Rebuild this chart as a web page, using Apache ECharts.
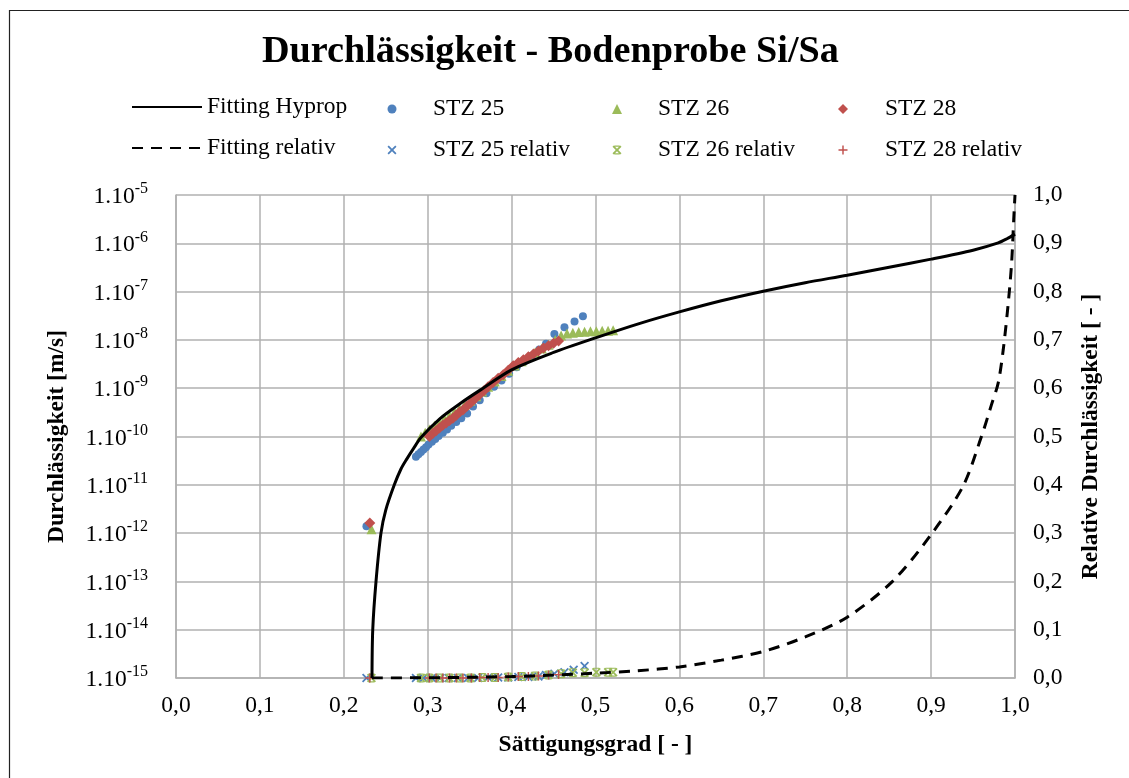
<!DOCTYPE html>
<html>
<head>
<meta charset="utf-8">
<script src="https://cdn.jsdelivr.net/npm/echarts@6/dist/echarts.min.js"></script>
<style>
  html, body { margin: 0; padding: 0; background: #fff; }
  #chart { width: 1129px; height: 778px; }
</style>
</head>
<body>
<div id="chart"></div>
<script>
// Saturation degree [-] vs. hydraulic conductivity [m/s] (log) and relative conductivity [-]

// Fitted conductivity curve (Hyprop)
const fitS = [0.2336, 0.2345, 0.2384, 0.2443, 0.250, 0.2602, 0.268, 0.275, 0.283, 0.292, 0.314, 0.340, 0.366, 0.400, 0.450, 0.500, 0.553, 0.600, 0.650, 0.700, 0.750, 0.800, 0.850, 0.900, 0.950, 0.980, 0.990, 1.000];
const fitK = [1e-15, 1e-14, 1e-13, 1e-12, 3.0e-12, 1e-11, 2.1e-11, 3.4e-11, 5.6e-11, 9.5e-11, 2.3e-10, 5.0e-10, 1.0e-9, 2.4e-9, 5.5e-9, 1.1e-8, 2.2e-8, 3.8e-8, 6.46e-8, 1.02e-7, 1.53e-7, 2.19e-7, 3.2e-7, 4.7e-7, 7.2e-7, 1.02e-6, 1.23e-6, 1.55e-6];

// Fitted relative conductivity curve
const relFitS = [0.2336, 0.30, 0.35, 0.40, 0.45, 0.50, 0.55, 0.60, 0.65, 0.70, 0.75, 0.80, 0.854, 0.90, 0.938, 0.960, 0.972, 0.980, 0.986, 0.992, 0.996, 0.9985, 1.000];
const relFitK = [0, 0.0005, 0.0015, 0.003, 0.006, 0.010, 0.015, 0.023, 0.037, 0.055, 0.085, 0.126, 0.200, 0.297, 0.397, 0.500, 0.566, 0.611, 0.680, 0.777, 0.860, 0.950, 1.000];

// Measured conductivity, sample STZ 25
const s25 = [0.227, 0.286, 0.289, 0.292, 0.295, 0.298, 0.301, 0.305, 0.309, 0.313, 0.318, 0.323, 0.328, 0.334, 0.340, 0.347, 0.354, 0.362, 0.370, 0.379, 0.388, 0.397, 0.406, 0.415, 0.424, 0.433, 0.441, 0.451, 0.463, 0.475, 0.485];
const k25 = [1.38e-12, 3.8e-11, 4.3e-11, 4.8e-11, 5.4e-11, 6.0e-11, 6.8e-11, 7.8e-11, 8.9e-11, 1.02e-10, 1.2e-10, 1.4e-10, 1.66e-10, 2.0e-10, 2.4e-10, 3.0e-10, 4.2e-10, 5.6e-10, 7.9e-10, 1.07e-9, 1.45e-9, 2.0e-9, 2.7e-9, 3.55e-9, 4.7e-9, 6.3e-9, 8.3e-9, 1.32e-8, 1.82e-8, 2.4e-8, 3.1e-8];

// Measured conductivity, sample STZ 26
const s26 = [0.233, 0.292, 0.297, 0.302, 0.308, 0.314, 0.320, 0.326, 0.332, 0.338, 0.344, 0.351, 0.358, 0.365, 0.372, 0.380, 0.388, 0.396, 0.404, 0.412, 0.420, 0.428, 0.436, 0.444, 0.452, 0.459, 0.466, 0.473, 0.480, 0.487, 0.494, 0.501, 0.508, 0.515, 0.521];
const k26 = [1.2e-12, 1.0e-10, 1.2e-10, 1.4e-10, 1.66e-10, 1.95e-10, 2.3e-10, 2.7e-10, 3.2e-10, 3.8e-10, 4.5e-10, 5.5e-10, 6.8e-10, 8.5e-10, 1.07e-9, 1.38e-9, 1.78e-9, 2.3e-9, 2.95e-9, 3.6e-9, 4.5e-9, 5.5e-9, 6.6e-9, 7.9e-9, 1.0e-8, 1.23e-8, 1.35e-8, 1.41e-8, 1.45e-8, 1.48e-8, 1.51e-8, 1.51e-8, 1.55e-8, 1.55e-8, 1.58e-8];

// Measured conductivity, sample STZ 28
const s28 = [0.231, 0.302, 0.306, 0.310, 0.314, 0.318, 0.322, 0.326, 0.330, 0.334, 0.338, 0.342, 0.347, 0.352, 0.357, 0.362, 0.367, 0.372, 0.378, 0.384, 0.390, 0.396, 0.402, 0.408, 0.414, 0.420, 0.426, 0.432, 0.438, 0.444, 0.450, 0.456];
const k28 = [1.62e-12, 1.0e-10, 1.15e-10, 1.32e-10, 1.5e-10, 1.7e-10, 1.9e-10, 2.15e-10, 2.4e-10, 2.75e-10, 3.2e-10, 3.55e-10, 4.3e-10, 5.1e-10, 6.2e-10, 7.4e-10, 8.9e-10, 1.07e-9, 1.32e-9, 1.6e-9, 1.9e-9, 2.35e-9, 2.9e-9, 3.4e-9, 3.9e-9, 4.5e-9, 5.1e-9, 5.9e-9, 6.8e-9, 7.6e-9, 8.5e-9, 9.5e-9];

// Relative conductivity of the samples
const relS25 = [0.227, 0.286, 0.295, 0.305, 0.315, 0.325, 0.336, 0.348, 0.360, 0.372, 0.384, 0.396, 0.408, 0.420, 0.432, 0.441, 0.451, 0.463, 0.474, 0.487];
const relK25 = [0, 0, 0, 0, 0, 0, 0, 0, 0, 0.001, 0.001, 0.001, 0.002, 0.002, 0.003, 0.006, 0.009, 0.012, 0.017, 0.025];
const relS26 = [0.233, 0.292, 0.302, 0.314, 0.326, 0.338, 0.351, 0.365, 0.380, 0.396, 0.412, 0.428, 0.444, 0.459, 0.473, 0.487, 0.501, 0.515, 0.521];
const relK26 = [0, 0, 0, 0, 0, 0, 0, 0.001, 0.001, 0.002, 0.003, 0.004, 0.006, 0.009, 0.011, 0.011, 0.012, 0.012, 0.012];
const relS28 = [0.231, 0.302, 0.310, 0.318, 0.326, 0.334, 0.342, 0.352, 0.362, 0.372, 0.384, 0.396, 0.408, 0.420, 0.432, 0.444, 0.456];
const relK28 = [0, 0, 0, 0, 0, 0, 0, 0, 0.001, 0.001, 0.001, 0.002, 0.003, 0.003, 0.004, 0.006, 0.007];

// Axis ranges and labels
const xMin = 0, xMax = 1, xStep = 0.1;
const yLogMin = 1e-15, yLogMax = 1e-5;
const relMin = 0, relMax = 1, relStep = 0.1;
const titleText = 'Durchlässigkeit - Bodenprobe Si/Sa';
const xName = 'Sättigungsgrad [ - ]';
const yName = 'Durchlässigkeit [m/s]';
const y2Name = 'Relative Durchlässigkeit [ - ]';

const FONT = '"Liberation Serif", "Times New Roman", serif';
const FS = 23.5;
const BLUE = '#4F81BD', GREEN = '#9BBB59', RED = '#C0504D';
const GRID = '#b0b0b0';

const pairs = (xs, ys) => xs.map((x, i) => [x, ys[i]]);
const comma = v => v.toFixed(1).replace('.', ',');

const SYM_X = 'path://M0,1.4L1.4,0L5,3.6L8.6,0L10,1.4L6.4,5L10,8.6L8.6,10L5,6.4L1.4,10L0,8.6L3.6,5Z';
const SYM_STAR = 'path://M0,1.4L1.4,0L5,3.6L8.6,0L10,1.4L6.4,5L10,8.6L8.6,10L5,6.4L1.4,10L0,8.6L3.6,5Z M2,0H8V1.3H2Z M2,8.7H8V10H2Z';
const SYM_PLUS = 'path://M4.2,0H5.8V4.2H10V5.8H5.8V10H4.2V5.8H0V4.2H4.2Z';

// legend entry drawn as a line sample
function lineLegend(name, left, top) {
  return { data: [name], left: left, top: top, itemWidth: 70, itemHeight: 14, itemGap: 0,
           itemStyle: { opacity: 0 },
           textStyle: { fontFamily: FONT, fontSize: FS, color: '#000' },
           selectedMode: false, padding: 0 };
}
// legend entry drawn as a single marker, label shifted to its column
function markLegend(name, center, top, size, textLeft) {
  const left = center - size / 2;
  return { data: [name], left: left, top: top, itemWidth: size, itemHeight: size, itemGap: 0,
           textStyle: { fontFamily: FONT, fontSize: FS, color: '#000',
                        padding: [0, 0, 0, textLeft - (left + size + 5)] },
           selectedMode: false, padding: 0 };
}

const chart = echarts.init(document.getElementById('chart'), null, { renderer: 'canvas' });
chart.setOption({
  backgroundColor: '#fff',
  animation: false,
  title: {
    text: titleText, left: 257, top: 28,
    textStyle: { fontFamily: FONT, fontSize: 38.2, fontWeight: 'bold', color: '#000' }
  },
  legend: [
    lineLegend('Fitting Hyprop', 131, 95),
    lineLegend('Fitting relativ', 131, 136),
    markLegend('STZ 25', 392, 97, 9, 433),
    markLegend('STZ 25 relativ', 392, 138, 9, 433),
    markLegend('STZ 26', 617, 97, 10, 658),
    markLegend('STZ 26 relativ', 617, 138, 9, 658),
    markLegend('STZ 28', 843, 97, 10, 885),
    markLegend('STZ 28 relativ', 843, 138, 9, 885)
  ],
  graphic: [{
    type: 'rect', silent: true, z: -10,
    shape: { x: 9.5, y: 10.5, width: 1300, height: 900 },
    style: { fill: 'none', stroke: '#222', lineWidth: 1.2 }
  }],
  grid: { left: 176, right: 114, top: 195, bottom: 100, containLabel: false },
  xAxis: {
    type: 'value', min: xMin, max: xMax, interval: xStep,
    name: xName, nameLocation: 'middle', nameGap: 55,
    nameTextStyle: { fontFamily: FONT, fontSize: FS, fontWeight: 'bold', color: '#000' },
    axisLine: { show: true, lineStyle: { color: GRID, width: 1.5 } },
    axisTick: { show: false },
    axisLabel: { fontFamily: FONT, fontSize: FS, color: '#000', margin: 16, formatter: comma },
    splitLine: { show: true, lineStyle: { color: GRID, width: 1.5 } }
  },
  yAxis: [{
    type: 'log', logBase: 10, min: yLogMin, max: yLogMax, interval: 1, splitNumber: 10,
    name: yName, nameLocation: 'middle', nameGap: 107, nameRotate: 90,
    nameTextStyle: { fontFamily: FONT, fontSize: FS, fontWeight: 'bold', color: '#000' },
    axisLine: { show: true, lineStyle: { color: GRID, width: 1.5 } },
    axisTick: { show: false },
    axisLabel: {
      margin: 28, color: '#000',
      formatter: v => '{b|1.10}{s|' + Math.round(Math.log10(v)) + '}',
      rich: {
        b: { fontFamily: FONT, fontSize: FS, color: '#000', lineHeight: 28, verticalAlign: 'bottom' },
        s: { fontFamily: FONT, fontSize: 16, color: '#000', lineHeight: 16, verticalAlign: 'top' }
      }
    },
    splitLine: { show: true, lineStyle: { color: GRID, width: 1.5 } }
  }, {
    type: 'value', position: 'right', min: relMin, max: relMax, interval: relStep,
    name: y2Name, nameLocation: 'middle', nameGap: 64, nameRotate: 90,
    nameTextStyle: { fontFamily: FONT, fontSize: FS, fontWeight: 'bold', color: '#000' },
    axisLine: { show: true, lineStyle: { color: GRID, width: 1.5 } },
    axisTick: { show: false },
    axisLabel: { fontFamily: FONT, fontSize: FS, color: '#000', margin: 18, formatter: comma },
    splitLine: { show: false }
  }],
  series: [
    { name: 'Fitting Hyprop', type: 'line', yAxisIndex: 0, data: pairs(fitS, fitK),
      showSymbol: false, symbol: 'none', smooth: 0.3, z: 5,
      lineStyle: { color: '#000', width: 3 }, itemStyle: { color: '#000' } },
    { name: 'Fitting relativ', type: 'line', yAxisIndex: 1, data: pairs(relFitS, relFitK),
      showSymbol: false, symbol: 'none', smooth: 0.3, z: 5,
      lineStyle: { color: '#000', width: 3, type: [11, 8] }, itemStyle: { color: '#000' } },
    { name: 'STZ 25', type: 'scatter', yAxisIndex: 0, data: pairs(s25, k25),
      symbol: 'circle', symbolSize: 8, itemStyle: { color: BLUE, opacity: 1 }, z: 2 },
    { name: 'STZ 26', type: 'scatter', yAxisIndex: 0, data: pairs(s26, k26),
      symbol: 'triangle', symbolSize: 10, itemStyle: { color: GREEN, opacity: 1 }, z: 3 },
    { name: 'STZ 28', type: 'scatter', yAxisIndex: 0, data: pairs(s28, k28),
      symbol: 'diamond', symbolSize: 11, itemStyle: { color: RED, opacity: 1 }, z: 4 },
    { name: 'STZ 25 relativ', type: 'scatter', yAxisIndex: 1, data: pairs(relS25, relK25),
      symbol: SYM_X, symbolSize: 9, itemStyle: { color: BLUE, opacity: 1 }, z: 2 },
    { name: 'STZ 26 relativ', type: 'scatter', yAxisIndex: 1, data: pairs(relS26, relK26),
      symbol: SYM_STAR, symbolSize: 9, itemStyle: { color: GREEN, opacity: 1 }, z: 3 },
    { name: 'STZ 28 relativ', type: 'scatter', yAxisIndex: 1, data: pairs(relS28, relK28),
      symbol: SYM_PLUS, symbolSize: 9, itemStyle: { color: RED, opacity: 1 }, z: 4 }
  ]
});
</script>
</body>
</html>
